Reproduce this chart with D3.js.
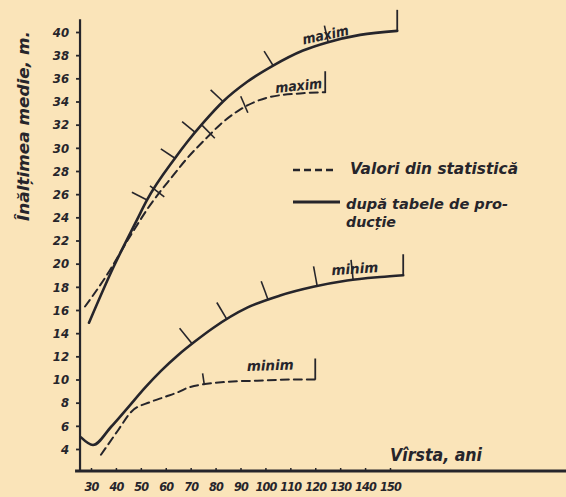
<!DOCTYPE html>
<html>
<head>
<meta charset="utf-8">
<script src="https://cdn.jsdelivr.net/npm/d3@7"></script>
<style>
  html, body { margin: 0; padding: 0; background: #fae4b9; }
  svg { display: block; }
  text { font-family: "DejaVu Sans Condensed", "DejaVu Sans", sans-serif; font-weight: bold; font-style: italic; fill: #26252b; }
</style>
</head>
<body>
<div id="chart"></div>
<script>
// Age ticks (years) and mean height ticks (m)
const ageTicks = [30, 40, 50, 60, 70, 80, 90, 100, 110, 120, 130, 140, 150];
const heightTicks = [4, 6, 8, 10, 12, 14, 16, 18, 20, 22, 24, 26, 28, 30, 32, 34, 36, 38, 40];

// Yield-table curves (solid): [age, mean height]
const maxTable = [
  [29.2, 14.9], [38.8, 19.6], [48.5, 23.8], [52.5, 25.5], [63.7, 29.1], [68.6, 30.5],
  [75.0, 32.15], [83.0, 34.0], [92.7, 35.7], [103.1, 37.1], [115.1, 38.4], [124.8, 39.1],
  [138.0, 39.75], [152.9, 40.1]
];
const minTable = [
  [26.0, 5.0], [30.8, 4.35], [38.0, 5.9], [44.9, 7.6], [51.7, 9.3], [58.1, 10.75],
  [64.9, 12.1], [71.8, 13.3], [79.0, 14.45], [92.7, 16.2], [105.9, 17.25], [119.2, 18.0],
  [132.8, 18.55], [146.1, 18.85], [155.3, 19.0]
];

// Statistical values (dashed)
const maxStats = [
  [27.6, 16.3], [34.8, 18.5], [46.5, 22.65], [52.9, 24.8], [62.9, 27.6], [67.8, 28.9],
  [76.6, 30.9], [81.8, 32.0], [89.8, 33.3], [101.1, 34.35], [113.9, 34.7], [124.0, 34.8]
];
const minStats = [
  [34.0, 3.5], [40.8, 5.6], [46.1, 7.2], [53.7, 8.05], [59.7, 8.5], [64.9, 8.9],
  [69.0, 9.3], [84.6, 9.8], [96.7, 9.9], [111.1, 10.0], [120.0, 10.0]
];

// Ages of the short check strokes drawn across the curves
const maxTableChecks = [52.5, 63.7, 71.8, 83.0, 103.1, 125.2];
const minTableChecks = [70.6, 84.6, 101.1, 120.8, 135.2];
const maxStatsChecks = [57.5, 78.0, 92.0];
const minStatsChecks = [75.5];

const legendItems = [
  { dash: true, lines: ["Valori din statistică"], widths: [168] },
  { dash: false, lines: ["după tabele de pro-", "ducție"], widths: [162, 50] }
];

const W = 566, H = 497;
const ink = "#26252b";

const svg = d3.select("#chart").append("svg")
  .attr("width", W).attr("height", H);

svg.append("rect").attr("width", W).attr("height", H).attr("fill", "#fae4b9");

const x = d3.scaleLinear().domain([30, 150]).range([91, 390]);
const y = d3.scaleLinear().domain([4, 40]).range([449, 32]);

// Axis lines
svg.append("line")
  .attr("x1", x(25.6)).attr("x2", x(25.6))
  .attr("y1", y(41.1)).attr("y2", y(2.1))
  .attr("stroke", ink).attr("stroke-width", 2.2);
svg.append("line")
  .attr("x1", x(23.6)).attr("x2", W)
  .attr("y1", y(2.1)).attr("y2", y(2.1))
  .attr("stroke", ink).attr("stroke-width", 3);

// Y axis ticks and labels
const yAxis = svg.append("g")
  .attr("transform", `translate(${x(25.6)},0)`)
  .call(d3.axisLeft(y).tickValues(heightTicks).tickSize(4).tickPadding(7).tickSizeOuter(0));
yAxis.select(".domain").remove();
yAxis.selectAll(".tick line").attr("stroke", ink).attr("stroke-width", 1.8);
yAxis.selectAll(".tick text")
  .attr("font-family", null).attr("font-size", 13).attr("fill", ink);

// X axis ticks and labels
const xAxis = svg.append("g")
  .attr("transform", `translate(0,${y(2.1)})`)
  .call(d3.axisBottom(x).tickValues(ageTicks).tickSize(-3).tickPadding(11).tickSizeOuter(0));
xAxis.select(".domain").remove();
xAxis.selectAll(".tick line").attr("stroke", ink).attr("stroke-width", 1.5);
xAxis.selectAll(".tick text")
  .attr("font-family", null).attr("font-size", 12.5).attr("fill", ink)
  .attr("letter-spacing", -0.8);

// Axis titles
svg.append("text")
  .attr("transform", `translate(29,126) rotate(-90)`)
  .attr("text-anchor", "middle")
  .attr("font-size", 16)
  .attr("textLength", 190).attr("lengthAdjust", "spacingAndGlyphs")
  .text("Înălțimea medie, m.");
svg.append("text")
  .attr("x", 390).attr("y", 461)
  .attr("font-size", 17)
  .attr("textLength", 92).attr("lengthAdjust", "spacingAndGlyphs")
  .text("Vîrsta, ani");

// Curves
const line = d3.line()
  .x(d => x(d[0])).y(d => y(d[1]))
  .curve(d3.curveMonotoneX);

function drawCurve(data, dashed) {
  svg.append("path")
    .attr("d", line(data))
    .attr("fill", "none")
    .attr("stroke", ink)
    .attr("stroke-width", dashed ? 2 : 2.6)
    .attr("stroke-linecap", "round")
    .attr("stroke-dasharray", dashed ? "8,5" : null);
}
drawCurve(maxTable, false);
drawCurve(minTable, false);
drawCurve(maxStats, true);
drawCurve(minStats, true);

// Point on a curve at a given age (linear between readings) and its upward normal
function onCurve(data, age) {
  let i = 0;
  while (i < data.length - 2 && data[i + 1][0] < age) i++;
  const a = data[i], b = data[i + 1];
  const t = (age - a[0]) / (b[0] - a[0]);
  const px = x(age), py = y(a[1] + t * (b[1] - a[1]));
  const dx = x(b[0]) - x(a[0]), dy = y(b[1]) - y(a[1]);
  const len = Math.hypot(dx, dy);
  return { px, py, nx: dy / len, ny: -dx / len };
}

function drawChecks(data, ages, len, both) {
  ages.forEach(age => {
    const p = onCurve(data, age);
    svg.append("line")
      .attr("x1", both ? p.px - p.nx * len * 0.5 : p.px)
      .attr("y1", both ? p.py - p.ny * len * 0.5 : p.py)
      .attr("x2", p.px + p.nx * len)
      .attr("y2", p.py + p.ny * len)
      .attr("stroke", ink).attr("stroke-width", 1.6);
  });
  // closing vertical stroke at the last reading
  const last = data[data.length - 1];
  svg.append("line")
    .attr("x1", x(last[0])).attr("x2", x(last[0]))
    .attr("y1", y(last[1])).attr("y2", y(last[1]) - 21)
    .attr("stroke", ink).attr("stroke-width", 1.8);
}
drawChecks(maxTable, maxTableChecks, 17, false);
drawChecks(minTable, minTableChecks, 20, false);
drawChecks(maxStats, maxStatsChecks, 12, true);
drawChecks(minStats, minStatsChecks, 12, false);

// Curve labels
const curveLabels = [
  { text: "maxim", data: maxTable, age: 124.5, rot: -12, off: 3 },
  { text: "maxim", data: maxStats, age: 113.5, rot: -6, off: 3 },
  { text: "minim", data: minTable, age: 136, rot: -4, off: 6 },
  { text: "minim", data: minStats, age: 102, rot: -2, off: 10 }
];
curveLabels.forEach(l => {
  const p = onCurve(l.data, l.age);
  svg.append("text")
    .attr("transform", `translate(${p.px},${p.py - l.off}) rotate(${l.rot})`)
    .attr("text-anchor", "middle")
    .attr("font-size", 14)
    .attr("textLength", 47).attr("lengthAdjust", "spacingAndGlyphs")
    .text(l.text);
});

// Legend
const legend = svg.append("g").attr("transform", "translate(293,170)");
legendItems.forEach((item, i) => {
  const g = legend.append("g").attr("transform", `translate(0,${i * 32})`);
  g.append("line")
    .attr("x1", 0).attr("x2", item.dash ? 42 : 47)
    .attr("y1", 0).attr("y2", 0)
    .attr("stroke", ink).attr("stroke-width", item.dash ? 2.4 : 2.8)
    .attr("stroke-dasharray", item.dash ? "7,4" : null);
  item.lines.forEach((t, j) => {
    g.append("text")
      .attr("x", item.dash ? 57 : 53)
      .attr("y", item.dash ? 4 : 7 + j * 18)
      .attr("font-size", item.dash ? 16 : 14.5)
      .attr("textLength", item.widths[j]).attr("lengthAdjust", "spacingAndGlyphs")
      .text(t);
  });
});
</script>
</body>
</html>
